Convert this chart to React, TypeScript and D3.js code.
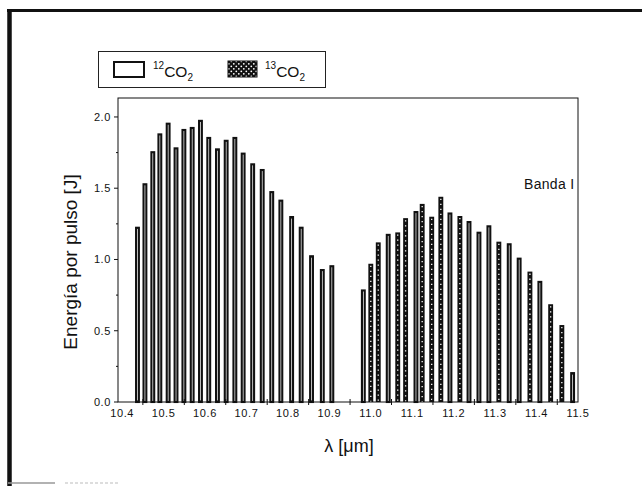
import React from "react";
import * as d3 from "d3";

// 12CO2 lines: wavelength (µm) and energy per pulse (J)
const LAMBDA_12 = [
  10.437, 10.455, 10.474, 10.491, 10.511, 10.53, 10.549, 10.569, 10.589, 10.609,
  10.63, 10.651, 10.672, 10.692, 10.715, 10.738, 10.761, 10.783, 10.809, 10.832,
  10.857, 10.883, 10.906,
  10.982, 11.042, 11.109, 11.191, 11.237, 11.261, 11.285, 11.334, 11.358, 11.408, 11.487,
];
const ENERGY_12 = [
  1.23, 1.535, 1.76, 1.885, 1.96, 1.787, 1.916, 1.93, 1.98, 1.86,
  1.78, 1.84, 1.86, 1.75, 1.675, 1.635, 1.48, 1.42, 1.305, 1.23,
  1.03, 0.933, 0.96,
  0.79, 1.18, 1.34, 1.33, 1.27, 1.195, 1.24, 1.114, 1.013, 0.85, 0.21,
];
// 13CO2 lines
const LAMBDA_13 = [
  11.0, 11.018, 11.065, 11.084, 11.124, 11.147, 11.169, 11.215, 11.309, 11.384, 11.434, 11.461,
];
const ENERGY_13 = [
  0.97, 1.12, 1.19, 1.29, 1.39, 1.3, 1.44, 1.305, 1.125, 0.915, 0.686, 0.54,
];

const X_LABEL_VALUES = [10.4, 10.5, 10.6, 10.7, 10.8, 10.9, 11.0, 11.1, 11.2, 11.3, 11.4, 11.5];
const X_TICK_VALUES = [10.45, 10.55, 10.65, 10.75, 10.85, 10.95, 11.05, 11.15, 11.25, 11.35, 11.45];
const Y_MAJOR = [0, 0.5, 1.0, 1.5, 2.0];
const Y_MINOR = [0.25, 0.75, 1.25, 1.75];

const W = 642;
const H = 486;
const FONT = "'Liberation Sans', Arial, sans-serif";

export default function App() {
  const left = 118, right = 578, top = 98, bottom = 402;
  const x = d3.scaleLinear().domain([10.39, 11.5]).range([left, right]);
  const y = d3.scaleLinear().domain([0, 2.133]).range([bottom, top]);
  const bw = 0.0118; // full bar width in µm (~5 px)
  const fmt = d3.format(".1f");

  const bars12 = LAMBDA_12.map((l, i) => ({ l, e: ENERGY_12[i] }));
  const bars13 = LAMBDA_13.map((l, i) => ({ l, e: ENERGY_13[i] }));
  const sw12 = 2.1;

  return (
    <svg
      width={W}
      height={H}
      style={{ position: "absolute", left: 0, top: 0, background: "#fff" }}
      fontFamily={FONT}
    >
      <defs>
        <pattern id="dots" width="5" height="5" patternUnits="userSpaceOnUse">
          <rect width="5" height="5" fill="#111" />
          <circle cx="1.3" cy="1.3" r="0.9" fill="#fff" />
          <circle cx="3.8" cy="3.8" r="0.9" fill="#fff" />
        </pattern>
      </defs>

      {/* outer frame */}
      <line x1={7} y1={10.5} x2={W} y2={10.5} stroke="#111" strokeWidth={3} />
      <line x1={9.5} y1={9} x2={9.5} y2={H} stroke="#111" strokeWidth={4.5} />
      <line x1={8} y1={483} x2={55} y2={483} stroke="#999" strokeWidth={1.5} />
      <line x1={65} y1={483} x2={120} y2={483} stroke="#bbb" strokeWidth={1} strokeDasharray="3 2" />

      {/* legend */}
      <rect x={98.5} y={51.5} width={227} height={36} fill="#fff" stroke="#222" strokeWidth={1} />
      <rect x={114} y={62} width={30} height={15} fill="#fff" stroke="#111" strokeWidth={2} />
      <text x={153} y={77} fontSize={15.5} fill="#111">
        <tspan fontSize={10} dy={-8}>12</tspan>
        <tspan dy={8}>CO</tspan>
        <tspan fontSize={10} dy={4}>2</tspan>
      </text>
      <rect x={228} y={61} width={29} height={16} fill="url(#dots)" stroke="#111" strokeWidth={1} />
      <text x={265} y={77} fontSize={15.5} fill="#111">
        <tspan fontSize={10} dy={-8}>13</tspan>
        <tspan dy={8}>CO</tspan>
        <tspan fontSize={10} dy={4}>2</tspan>
      </text>

      {/* bars 12CO2 (open bars with heavy outline) */}
      {bars12.map((d, i) => {
        const x0 = x(d.l - bw / 2);
        const wpx = x(d.l + bw / 2) - x0;
        return (
          <rect
            key={"a" + i}
            x={x0 + sw12 / 2}
            y={y(d.e) + sw12 / 2}
            width={wpx - sw12}
            height={y(0) - y(d.e) - sw12 / 2}
            fill="#fff"
            stroke="#111"
            strokeWidth={sw12}
          />
        );
      })}
      {/* bars 13CO2 (dotted fill) */}
      {bars13.map((d, i) => {
        const x0 = x(d.l - bw / 2);
        const wpx = x(d.l + bw / 2) - x0;
        return (
          <g key={"b" + i}>
            <rect x={x0} y={y(d.e)} width={wpx} height={y(0) - y(d.e)} fill="#111" />
            <line
              x1={x0 + wpx / 2}
              x2={x0 + wpx / 2}
              y1={y(d.e) + 2}
              y2={y(0)}
              stroke="#fff"
              strokeWidth={1.3}
              strokeDasharray="1.3 3.7"
            />
          </g>
        );
      })}

      {/* plot frame */}
      <rect x={left} y={top} width={right - left} height={bottom - top} fill="none" stroke="#111" strokeWidth={1} />

      {/* x ticks */}
      {X_TICK_VALUES.map((v) => (
        <line key={"xt" + v} x1={x(v)} x2={x(v)} y1={bottom - 3} y2={bottom + 3} stroke="#111" strokeWidth={1} />
      ))}
      {X_LABEL_VALUES.map((v) => (
        <text key={"xl" + v} x={x(v)} y={417} fontSize={11} textAnchor="middle" fill="#111" letterSpacing={0.6}>
          {fmt(v)}
        </text>
      ))}

      {/* y ticks */}
      {Y_MAJOR.map((v) => (
        <g key={"ym" + v}>
          <line x1={left - 4} x2={left} y1={y(v)} y2={y(v)} stroke="#111" strokeWidth={1} />
          <text x={111} y={y(v) + 4} fontSize={11} textAnchor="end" fill="#111" letterSpacing={0.6}>
            {fmt(v)}
          </text>
        </g>
      ))}
      {Y_MINOR.map((v) => (
        <line key={"yn" + v} x1={left - 2} x2={left} y1={y(v)} y2={y(v)} stroke="#111" strokeWidth={1} />
      ))}

      {/* annotation */}
      <text x={524} y={189} fontSize={14} fill="#111" letterSpacing={0.3}>
        Banda I
      </text>

      {/* axis titles */}
      <text x={349} y={452} fontSize={18} textAnchor="middle" fill="#111">
        λ [μm]
      </text>
      <text
        transform={`translate(77,262) rotate(-90)`}
        fontSize={19}
        textAnchor="middle"
        fill="#111"
      >
        Energía por pulso [J]
      </text>
    </svg>
  );
}
